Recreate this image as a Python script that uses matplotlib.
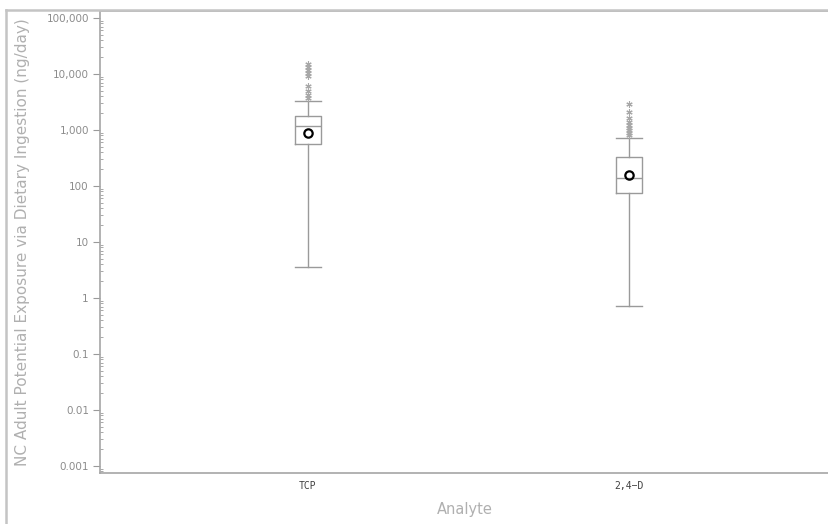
import numpy as np
import matplotlib
matplotlib.use('Agg')
import matplotlib.pyplot as plt
from matplotlib.ticker import FixedLocator, LogLocator, NullFormatter
from matplotlib.lines import Line2D

# values (ng/day)
analytes = ['TCP', '2,4\u2212D']
whislo = [3.6, 0.72]
q1 = [560, 75]
med = [1180, 139]
q3 = [1780, 330]
whishi = [3300, 720]
means = [884, 157]
fliers_tcp = [3730, 4300, 5000, 6100, 9200, 10500, 12000, 13500, 15100]
fliers_24d = [815, 900, 1000, 1100, 1250, 1400, 1640, 2090, 2910]

yticks = [0.001, 0.01, 0.1, 1, 10, 100, 1000, 10000, 100000]
ytick_labels = ['0.001', '0.01', '0.1', '1', '10', '100', '1,000', '10,000', '100,000']

grey = '#9a9a9a'
text_grey = '#8c8c8c'

fig = plt.figure(figsize=(8.29, 5.24), dpi=100)
ax = fig.add_axes([100/829, 51/524, 729/829, 462/524])

stats = []
for i, name in enumerate(analytes):
    stats.append(dict(label=name, whislo=whislo[i], q1=q1[i], med=med[i], q3=q3[i],
                      whishi=whishi[i], mean=means[i],
                      fliers=[fliers_tcp, fliers_24d][i]))

ax.bxp(stats, positions=[1, 2], widths=0.078, capwidths=0.078, showmeans=True,
       boxprops=dict(color=grey, lw=1),
       whiskerprops=dict(color=grey, lw=1),
       capprops=dict(color=grey, lw=1),
       medianprops=dict(color=grey, lw=1),
       meanprops=dict(marker='o', markerfacecolor='none', markeredgecolor='black',
                      markeredgewidth=1.6, markersize=6),
       flierprops=dict(marker=(6, 2, 0), markeredgecolor='#a8a8a8', markersize=4.5,
                       markeredgewidth=0.8, linestyle='none'))

ax.set_yscale('log')
ax.set_ylim(10**-3.125, 10**5.125)
ax.set_xlim(0.352, 2.623)
ax.yaxis.set_major_locator(FixedLocator(yticks))
ax.set_yticklabels(ytick_labels)
ax.yaxis.set_minor_locator(LogLocator(base=10, subs=np.arange(2, 10)))
ax.yaxis.set_minor_formatter(NullFormatter())
ax.tick_params(axis='y', which='major', direction='out', length=5, width=0.8,
               color=grey, labelcolor=text_grey, labelsize=7.5, pad=3)
ax.tick_params(axis='y', which='minor', direction='in', length=2, width=0.6, color=grey)
ax.set_xticks([1, 2])
ax.set_xticklabels(analytes, family='DejaVu Sans Mono', fontsize=7, color='#404040')
ax.tick_params(axis='x', length=0, pad=6)

for s in ['left', 'bottom', 'top']:
    ax.spines[s].set_color('#a6a6a6')
    ax.spines[s].set_linewidth(1.2)
ax.spines['right'].set_visible(False)

ax.set_ylabel('NC Adult Potential Exposure via Dietary Ingestion (ng/day)',
              fontsize=11, color='#b0b0b0')
ax.yaxis.set_label_coords(-(100 - 30)/729, 0.5)
ax.set_xlabel('Analyte', fontsize=10.5, color='#b0b0b0')
ax.xaxis.set_label_coords(0.5, -(502 - 473)/462)

# outer frame (top and left edges visible)
fig.add_artist(Line2D([6/829, 1], [1 - 10/524, 1 - 10/524], color='#c4c4c4', lw=1.8,
                      transform=fig.transFigure))
fig.add_artist(Line2D([6/829, 6/829], [0, 1 - 10/524], color='#c4c4c4', lw=1.8,
                      transform=fig.transFigure))

fig.savefig('out.png', dpi=100)
